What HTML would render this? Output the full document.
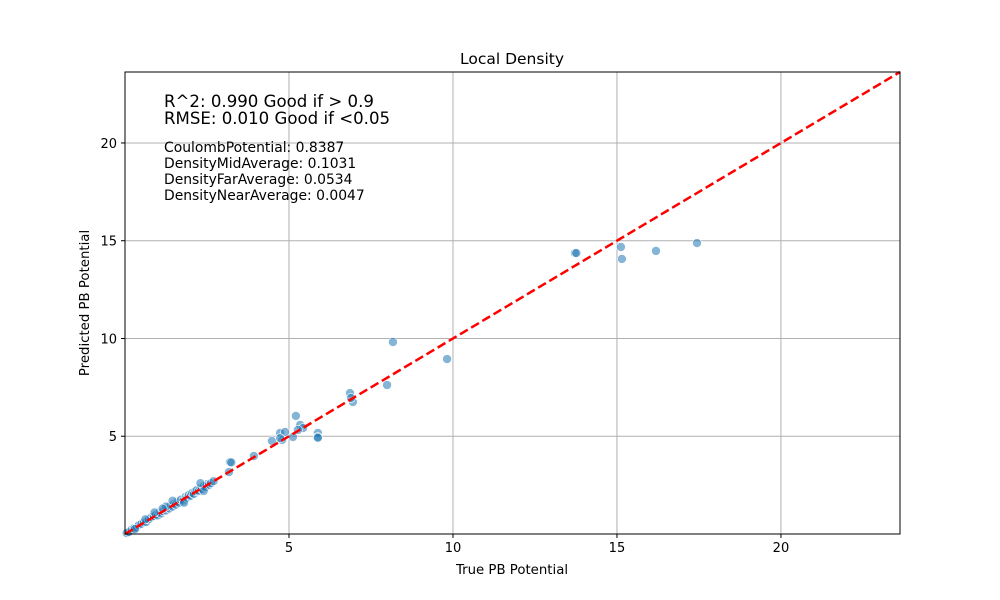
<!DOCTYPE html>
<html><head><meta charset="utf-8"><style>
body{margin:0;background:#fff}
svg{display:block;font-family:"DejaVu Sans","Liberation Sans",sans-serif}
</style></head><body>
<svg id="chart" width="1000" height="600" viewBox="0 0 1000 600">
<rect width="1000" height="600" fill="#fff"/>
<g id="grid"></g>
<g id="marks"></g>
<g id="fit"></g>
<rect x="125" y="72" width="775" height="462" fill="none" stroke="#000" stroke-width="1"/>
<g id="ticks" font-size="13"></g>
<text x="512" y="64" text-anchor="middle" font-size="15.5">Local Density</text>
<text x="512" y="574" text-anchor="middle" font-size="13.3">True PB Potential</text>
<text transform="translate(89,303) rotate(-90)" text-anchor="middle" font-size="13.3">Predicted PB Potential</text>
<g>
<text x="164" y="107" font-size="16.6">R^2: 0.990 Good if &gt; 0.9</text>
<text x="164" y="124" font-size="16.6">RMSE: 0.010 Good if &lt;0.05</text>
<text x="164" y="152" font-size="13.9">CoulombPotential: 0.8387</text>
<text x="164" y="168" font-size="13.9">DensityMidAverage: 0.1031</text>
<text x="164" y="184" font-size="13.9">DensityFarAverage: 0.0534</text>
<text x="164" y="200" font-size="13.9">DensityNearAverage: 0.0047</text>
</g>
</svg>
<script>
const xTicks=[5,10,15,20];
const yTicks=[5,10,15,20];
const trueVals=[13.72,13.76,15.12,15.15,16.19,17.44,8.17,9.82,7.99,6.86,6.95,6.89,5.21,5.34,5.43,5.27,5.88,5.88,5.88,5.12,4.73,4.88,4.48,4.79,4.73,3.93,3.20,3.24,3.17,
0.05,0.12,0.2,0.28,0.35,0.42,0.5,0.58,0.65,0.72,0.8,0.88,0.95,1.0,1.05,1.1,1.15,1.2,1.25,1.3,1.35,1.4,1.45,1.5,1.55,1.6,1.65,1.7,1.78,1.85,1.9,1.95,2.0,2.05,2.1,2.15,2.2,2.25,2.3,2.35,2.4,2.45,2.5,2.55,2.62,2.7,0.9,1.25,1.45,1.8,2.3,2.4,0.62,0.3,1.15];
const predVals=[14.37,14.37,14.68,14.07,14.48,14.88,9.82,8.95,7.62,7.21,6.75,6.96,6.04,5.58,5.42,5.32,5.17,4.96,4.92,4.96,5.17,5.22,4.76,4.81,4.90,3.99,3.68,3.66,3.17,
0.05,0.1,0.22,0.3,0.33,0.45,0.52,0.6,0.62,0.75,0.85,0.92,1.0,0.95,1.1,1.05,1.18,1.25,1.2,1.35,1.3,1.45,1.4,1.55,1.5,1.65,1.6,1.75,1.7,1.9,1.85,2.0,1.95,2.1,2.05,2.2,2.25,2.2,2.35,2.3,2.45,2.4,2.55,2.5,2.6,2.7,1.1,1.4,1.7,1.6,2.6,2.2,0.75,0.25,1.3];
const X0=125,X1=900,Y0=534,Y1=72,MAX=23.63;
const sx=v=>X0+(v/MAX)*(X1-X0), sy=v=>Y0-(v/MAX)*(Y0-Y1);
const NS='http://www.w3.org/2000/svg';
function mk(tag,attrs,parent){const e=document.createElementNS(NS,tag);for(const k in attrs)e.setAttribute(k,attrs[k]);parent.appendChild(e);return e;}
const grid=document.getElementById('grid'),ticks=document.getElementById('ticks');
xTicks.forEach(t=>{
 const g=mk('line',{x1:sx(t),x2:sx(t),y1:Y1,y2:Y0,stroke:'#b0b0b0','stroke-width':1},grid);
 
 
 const tk=mk('line',{x1:sx(t),x2:sx(t),y1:Y0,y2:Y0+4,stroke:'#000'},ticks);
 
 
 const tl=mk('text',{x:sx(t),y:Y0+18,'text-anchor':'middle'},ticks);tl.textContent=t;
 
 
});
yTicks.forEach(t=>{
 const g=mk('line',{x1:X0,x2:X1,y1:sy(t),y2:sy(t),stroke:'#b0b0b0','stroke-width':1},grid);
 
 
 const tk=mk('line',{x1:X0-4,x2:X0,y1:sy(t),y2:sy(t),stroke:'#000'},ticks);
 
 
 const tl=mk('text',{x:X0-8,y:sy(t)+5,'text-anchor':'end'},ticks);tl.textContent=t;
 
 
});
const marks=document.getElementById('marks');
trueVals.forEach((v,i)=>{
 const c=mk('circle',{cx:sx(v),cy:sy(predVals[i]),r:4.5,fill:'rgba(31,119,180,0.55)',stroke:'#fff','stroke-width':0.6},marks);
 
 
});
const l=mk('line',{x1:sx(0),y1:sy(0),x2:sx(MAX),y2:sy(MAX),stroke:'#ff0000','stroke-width':2.5,'stroke-dasharray':'9 4'},document.getElementById('fit'));


</script>
</body></html>
